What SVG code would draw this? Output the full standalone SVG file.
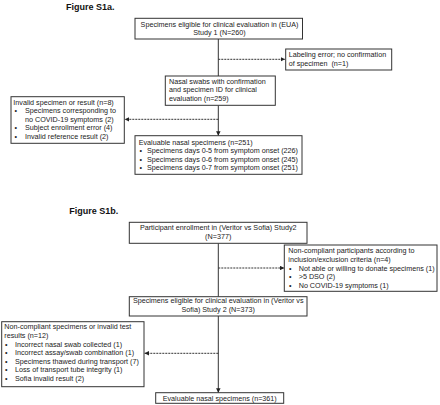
<svg xmlns="http://www.w3.org/2000/svg" width="440" height="405" viewBox="0 0 440 405">
<style>
text{font-family:"Liberation Sans",Arial,sans-serif;font-size:7.2px;fill:#222}
.t{font-size:9px;font-weight:bold;fill:#111}
.c{text-anchor:middle}
rect{fill:#fff;stroke:#333;stroke-width:1}
.ln{stroke:#333;stroke-width:1;fill:none}
.d{stroke-dasharray:2,1}
</style>
<defs>
<marker id="ah" viewBox="0 0 6 6" refX="6" refY="3" markerWidth="4.5" markerHeight="4.5" markerUnits="userSpaceOnUse" orient="auto">
<path d="M0,0L6,3L0,6z" fill="#222"/>
</marker>
</defs>
<rect x="0" y="0" width="440" height="405" style="stroke:none;fill:#fff"/>
<text class="t" x="66" y="10">Figure S1a.</text>
<text class="t" x="69.3" y="213.5">Figure S1b.</text>
<g id="connectors">
<path class="ln" d="M218.3,39V76"/>
<path class="ln d" d="M218.3,59.3H285" marker-end="url(#ah)"/>
<path class="ln" d="M218.3,105.3V135.7" marker-end="url(#ah)"/>
<path class="ln d" d="M218.3,119.3H124.8" marker-end="url(#ah)"/>
<path class="ln" d="M218.3,243.3V296.7"/>
<path class="ln d" d="M218.3,268H284.3" marker-end="url(#ah)"/>
<path class="ln" d="M218.3,316V392.7" marker-end="url(#ah)"/>
<path class="ln d" d="M218.3,353.3H144.5" marker-end="url(#ah)"/>
</g>
<g id="n1">
<rect x="135" y="18.3" width="167.5" height="20.7"/>
<text class="c" x="219.5" y="26.7">Specimens eligible for clinical evaluation in (EUA)</text>
<text class="c" x="219.5" y="35.3">Study 1 (N=260)</text>
</g>
<g id="n2">
<rect x="285.7" y="49" width="106" height="21"/>
<text x="288.7" y="56.9">Labeling error; no confirmation</text>
<text x="288.7" y="65.5" xml:space="preserve">of specimen  (n=1)</text>
</g>
<g id="n3">
<rect x="165.3" y="76" width="110" height="29.3"/>
<text x="169" y="83.5">Nasal swabs with confirmation</text>
<text x="169" y="92.3">and specimen ID for clinical</text>
<text x="169" y="101">evaluation (n=259)</text>
</g>
<g id="n4">
<rect x="11" y="96.7" width="113.3" height="46.6"/>
<text x="13.3" y="104.5">Invalid specimen or result (n=8)</text>
<text x="14.5" y="113.3">•</text><text x="25" y="113.3">Specimens corresponding to</text>
<text x="25" y="121.8">no COVID-19 symptoms (2)</text>
<text x="14.5" y="130.2">•</text><text x="25" y="130.2">Subject enrollment error (4)</text>
<text x="14.5" y="138.6">•</text><text x="25" y="138.6">Invalid reference result (2)</text>
</g>
<g id="n5">
<rect x="135" y="135.7" width="167" height="38.6"/>
<text x="138.7" y="145">Evaluable nasal specimens (n=251)</text>
<text x="139.5" y="153.4">•</text><text x="147" y="153.4">Specimens days 0-5 from symptom onset (226)</text>
<text x="139.5" y="161.9">•</text><text x="147" y="161.9">Specimens days 0-6 from symptom onset (245)</text>
<text x="139.5" y="170.4">•</text><text x="147" y="170.4">Specimens days 0-7 from symptom onset (251)</text>
</g>
<g id="n6">
<rect x="129.3" y="222.3" width="177.7" height="21"/>
<text class="c" x="218.2" y="230.2">Participant enrollment in (Veritor vs Sofia) Study2</text>
<text class="c" x="218.2" y="238.8">(N=377)</text>
</g>
<g id="n7">
<rect x="284.3" y="245" width="152.7" height="46.3"/>
<text x="288.3" y="253.4">Non-compliant participants according to</text>
<text x="288.3" y="262">inclusion/exclusion criteria (n=4)</text>
<text x="289" y="270.7">•</text><text x="298.7" y="270.7">Not able or willing to donate specimens (1)</text>
<text x="289" y="279.2">•</text><text x="298.7" y="279.2">&gt;5 DSO (2)</text>
<text x="289" y="287.7">•</text><text x="298.7" y="287.7">No COVID-19 symptoms (1)</text>
</g>
<g id="n8">
<rect x="129.3" y="296.7" width="177.7" height="19.3"/>
<text class="c" x="218.2" y="303.4">Specimens eligible for clinical evaluation in (Veritor vs</text>
<text class="c" x="218.2" y="312">Sofia) Study 2 (N=373)</text>
</g>
<g id="n9">
<rect x="1.7" y="321.7" width="142.3" height="65"/>
<text x="4.3" y="329.4">Non-compliant specimens or invalid test</text>
<text x="4.3" y="338">results (n=12)</text>
<text x="5" y="346.7">•</text><text x="15" y="346.7">Incorrect nasal swab collected (1)</text>
<text x="5" y="355.2">•</text><text x="15" y="355.2">Incorrect assay/swab combination (1)</text>
<text x="5" y="363.8">•</text><text x="15" y="363.8">Specimens thawed during transport (7)</text>
<text x="5" y="372.3">•</text><text x="15" y="372.3">Loss of transport tube integrity (1)</text>
<text x="5" y="380.9">•</text><text x="15" y="380.9">Sofia invalid result (2)</text>
</g>
<g id="n10">
<rect x="155.7" y="392.7" width="128" height="10.6"/>
<text class="c" x="219.7" y="400.6">Evaluable nasal specimens (n=361)</text>
</g>
</svg>
